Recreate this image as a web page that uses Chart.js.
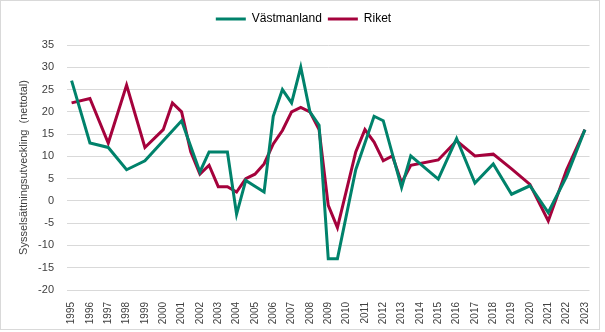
<!DOCTYPE html>
<html>
<head>
<meta charset="utf-8">
<script src="https://cdn.jsdelivr.net/npm/chart.js@4"></script>
<style>
  html, body { margin: 0; padding: 0; background: #fff; }
  #wrap { position: relative; width: 600px; height: 330px; border: 1px solid #d9d9d9; box-sizing: border-box; }
</style>
</head>
<body>
<div id="wrap"><canvas id="chart" width="600" height="330"></canvas></div>
<script>
// Half-year periods, 1995 .. 2023 (only the first half of each year gets a label)
const years = ['1995','1996','1997','1998','1999','2000','2001','2002','2003','2004',
  '2005','2006','2007','2008','2009','2010','2011','2012','2013','2014','2015','2016',
  '2017','2018','2019','2020','2021','2022','2023'];

// null = no value for that half-year (line is drawn straight across)
const vastmanland = [27, null, 13, null, 12, null, 7, null, 9, null,
  null, null, 18, null, 6.5, 11, null, 11, -3, 4.6,
  3.3, 2, 19, 25, 22, 30, 20, 17, -13, -13,
  null, 7, null, 19, 18, null, 3, 10.1, null, null,
  4.9, null, 14, null, 4, null, 8.3, null, 1.5, null,
  3.4, null, -2.6, null, 5.5, null, 16];

const riket = [22, null, 23, null, 13, null, 26, null, 12, null,
  16, 22, 20, 11, 6, 8, 3.2, 3.2, 2, 5,
  6, 8.3, 12.8, 15.8, 20, 21, 20, 16, -1, -6,
  null, 11, 16, 13.2, 9, 10.1, 4.1, 8, null, null,
  9.2, null, 13.5, null, 10.1, null, 10.5, null, 7.2, null,
  3.7, null, -4.5, null, 7, null, 16];

const categories = [];
years.forEach((y, i) => {
  categories.push(y);
  if (i < years.length - 1) categories.push('');
});

const font = "'Liberation Sans', Arial, sans-serif";

// a bit of extra room under the legend
const legendGap = {
  id: 'legendGap',
  beforeInit(chart) {
    const fit = chart.legend.fit;
    chart.legend.fit = function () {
      fit.bind(chart.legend)();
      this.height += 10;
    };
  }
};

new Chart(document.getElementById('chart'), {
  type: 'line',
  data: {
    labels: categories,
    datasets: [
      { label: 'Västmanland', data: vastmanland, borderColor: '#00826b', backgroundColor: '#00826b',
        borderWidth: 3, pointRadius: 0, tension: 0, spanGaps: true },
      { label: 'Riket', data: riket, borderColor: '#a5023c', backgroundColor: '#a5023c',
        borderWidth: 3, pointRadius: 0, tension: 0, spanGaps: true }
    ]
  },
  options: {
    responsive: false,
    animation: false,
    layout: { padding: { top: 6, right: 9, bottom: 2, left: 14 } },
    plugins: {
      legend: {
        display: true,
        position: 'top',
        labels: {
          color: '#404040',
          font: { family: font, size: 12 },
          boxWidth: 30, boxHeight: 3, padding: 6,
          generateLabels: (chart) => chart.data.datasets.map((d, i) => ({
            text: d.label, fillStyle: d.borderColor, strokeStyle: d.borderColor,
            lineWidth: 0, datasetIndex: i
          }))
        }
      },
      tooltip: { enabled: false }
    },
    scales: {
      x: {
        offset: true,
        grid: { display: false },
        border: { display: false },
        ticks: {
          color: '#404040', font: { family: font, size: 10 },
          autoSkip: false, maxRotation: 90, minRotation: 90, padding: 4
        },
        afterFit: (s) => { s.height = 39; }
      },
      y: {
        min: -20, max: 35,
        grid: { color: '#d9d9d9', lineWidth: 1, drawTicks: false },
        border: { display: false },
        ticks: { stepSize: 5, color: '#404040', font: { family: font, size: 11 }, padding: 13 },
        title: {
          display: true, text: 'Sysselsättningsutveckling  (nettotal)',
          color: '#404040', font: { family: font, size: 11 }, padding: 2
        },
        afterFit: (s) => { s.width = 52; }
      }
    }
  },
  plugins: [legendGap]
});
</script>
</body>
</html>
